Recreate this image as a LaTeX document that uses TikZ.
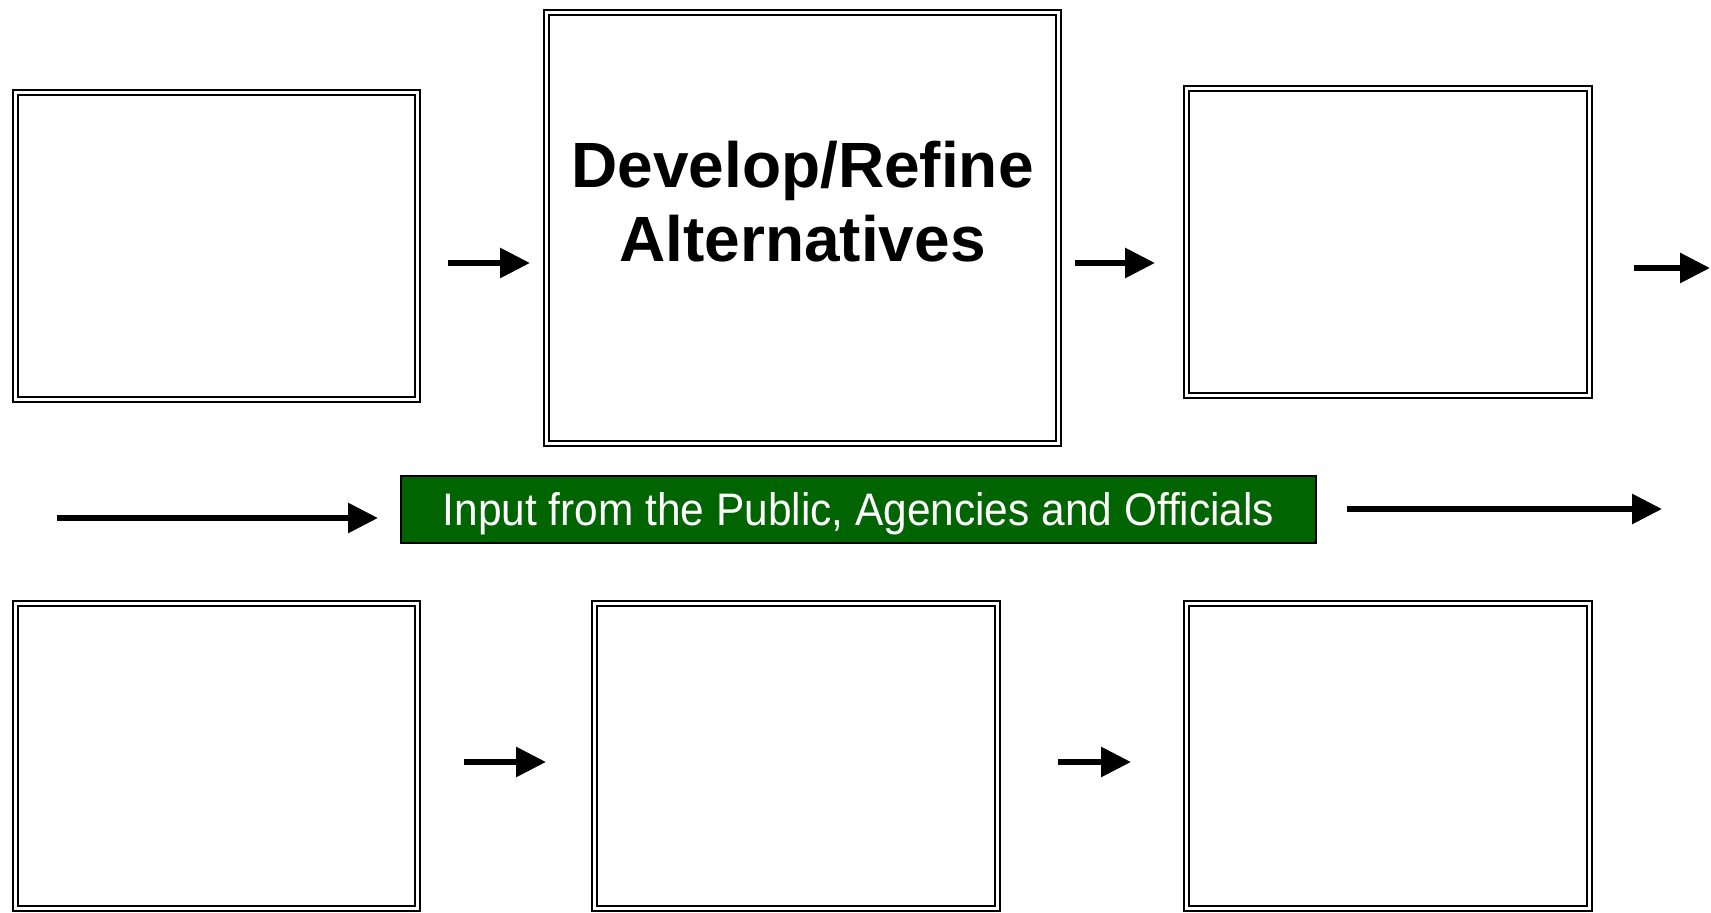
\documentclass[tikz,border=0pt]{standalone}
\usepackage{fontspec}
\usepackage{graphicx}
\setmainfont{Liberation Sans}
\usetikzlibrary{arrows.meta}
\definecolor{dkgreen}{HTML}{006400}
\begin{document}
\begin{tikzpicture}[x=0.5pt,y=-0.5pt,
  box/.style={draw=black, double=white, line width=1.2pt, double distance=1.3pt,
    fill=white, inner sep=0pt, outer sep=0pt},
  arr/.style={line width=3pt, -{Triangle[length=15pt,width=14.5pt]}},
  titletext/.style={font=\fontsize{32}{37}\selectfont\bfseries, align=center,
    inner sep=0pt, text height=59.9pt, text depth=0pt},
  banner/.style={draw=black, line width=0.8pt, fill=dkgreen, text=white,
    font=\fontsize{22.8}{27}\selectfont, inner sep=0pt,
    minimum width=457.5pt, minimum height=33.5pt, text height=16.4pt, text depth=0pt}
]
\useasboundingbox (0,0) rectangle (1711,913);

% boxes
\node[box, minimum width=200.75pt, minimum height=153.25pt] (b1) at (216.5,246) {};
\node[box, minimum width=255.75pt, minimum height=215.25pt] (b2) at (802.5,228) {};
\node[box, minimum width=201.25pt, minimum height=153.25pt] (b3) at (1388,242) {};
\node[box, minimum width=200.75pt, minimum height=152.25pt] (b4) at (216.5,756) {};
\node[box, minimum width=201.25pt, minimum height=152.25pt] (b5) at (796,756) {};
\node[box, minimum width=201.25pt, minimum height=152.25pt] (b6) at (1388,756) {};

\node[titletext] (title) at (802.5,202) {Develop/Refine\\Alternatives};

\node[banner] (input) at (858.5,509.5) {\scalebox{0.93}[1]{Input from the Public, Agencies and Officials}};

% arrow end points
\coordinate (a1s) at (448,263);   \coordinate (a1e) at (530,263);
\coordinate (a2s) at (1075,263);  \coordinate (a2e) at (1155,263);
\coordinate (a3s) at (1634,268);  \coordinate (a3e) at (1710,268);
\coordinate (a4s) at (464,762);   \coordinate (a4e) at (546,762);
\coordinate (a5s) at (1058,762);  \coordinate (a5e) at (1131,762);
\coordinate (l1s) at (57,518);    \coordinate (l1e) at (378,518);
\coordinate (l2s) at (1347,509);  \coordinate (l2e) at (1662,509);

\draw[arr] (a1s) -- (a1e);
\draw[arr] (a2s) -- (a2e);
\draw[arr] (a3s) -- (a3e);
\draw[arr] (a4s) -- (a4e);
\draw[arr] (a5s) -- (a5e);
\draw[arr] (l1s) -- (l1e);
\draw[arr] (l2s) -- (l2e);
\end{tikzpicture}
\end{document}
